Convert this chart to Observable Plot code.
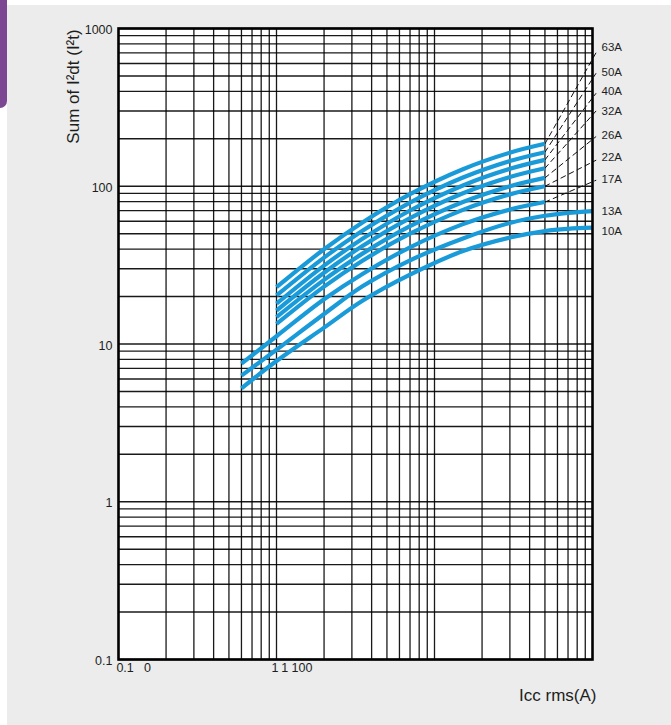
<!DOCTYPE html>
<html>
<head>
<meta charset="utf-8">
<script src="https://cdn.jsdelivr.net/npm/d3@7"></script>
<script src="https://cdn.jsdelivr.net/npm/@observablehq/plot@0.6"></script>
<style>
  html, body { margin: 0; padding: 0; background: #ffffff; }
  #page { position: relative; width: 671px; height: 725px; overflow: hidden; background: #ffffff; }
  #panel { position: absolute; left: 7px; top: 5px; right: 0; bottom: 0; background: #ebeceb; }
  #tab { position: absolute; left: 0; top: 0; width: 7px; height: 108px; background: #7b4793; border-bottom-right-radius: 7px; }
  #chart { position: absolute; left: 0; top: 0; }
</style>
</head>
<body>
<div id="page"><div id="panel"></div><div id="tab"></div><div id="chart"></div></div>
<script>
// ---- data ----
const ratings = ["63A", "50A", "40A", "32A", "26A", "22A", "17A", "13A", "10A"];

// upper curves start at 1 kA
const xUpper = [1, 2, 3.5, 7, 15, 30, 50];
const y63 = [22.9, 39.9, 59.0, 89.1, 127.8, 163.2, 185.8];
const y50 = [20.3, 35.3, 52.2, 78.8, 113.1, 144.4, 164.4];
const y40 = [18.0, 31.4, 46.4, 70.2, 100.8, 128.9, 146.9];
const y32 = [16.3, 28.3, 41.8, 62.8, 89.9, 114.4, 130.0];
const y26 = [14.8, 25.5, 37.4, 55.8, 79.2, 100.0, 113.0];
const y22 = [13.4, 23.1, 33.7, 50.0, 70.6, 88.8, 100.0];

// lower curves start at 0.6 kA
const x17 = [0.6, 1, 2, 3.5, 7, 15, 30, 50];
const y17 = [7.5, 11.2, 19.2, 27.8, 41.0, 57.3, 71.2, 79.4];
const xLow = [0.6, 1, 2, 3.5, 7, 15, 30, 50, 70, 100];
const y13 = [6.3, 9.2, 15.5, 23.2, 33.9, 46.5, 58.5, 65.0, 67.8, 69.6];
const y10 = [5.24, 7.8, 12.7, 18.8, 27.5, 38.7, 47.3, 52.0, 53.7, 54.6];

// dashed extrapolations (from the last point of each curve to the label side)
const dashFromX = 50;
const dashToX = 105;
const dashRatings = ["63A", "50A", "40A", "32A", "26A", "22A", "17A"];
const dashFromY = [185.8, 164.4, 146.9, 130.0, 113.0, 100.0, 79.4];
const dashToY = [699, 518, 387, 299, 206, 146, 109];

// curve labels at the right edge
const labelX = 100;
const labelY = [764, 531, 400, 299, 210, 152, 110, 69.4, 51.9];

// axes
const yTickValues = [0.1, 1, 10, 100, 1000];
const yTickLabels = ["0.1", "1", "10", "100", "1000"];
const xTickLabels = ["0.1", "0", "1", "1 100"];
const xTickAt = [0.097, 0.145, 0.93, 1.07];
const yGrid = [0.1,0.2,0.3,0.4,0.5,0.6,0.7,0.8,0.9,1,2,3,4,5,6,7,8,9,10,20,30,40,50,60,70,80,90,100,200,300,400,500,600,700,800,900,1000];
const xGrid = [0.2,0.3,0.4,0.5,0.6,0.7,0.8,0.9,1,2,3,4,5,6,7,8,9,10,20,30,40,50,60,70,80,90];
const xTitle = "Icc rms(A)";
const yTitle = "Sum of I²dt (I²t)";

// ---- build tables ----
const curveSets = [
  ["63A", xUpper, y63], ["50A", xUpper, y50], ["40A", xUpper, y40],
  ["32A", xUpper, y32], ["26A", xUpper, y26], ["22A", xUpper, y22],
  ["17A", x17, y17], ["13A", xLow, y13], ["10A", xLow, y10]
];
const curves = curveSets.flatMap(([r, xs, ys]) => xs.map((x, i) => ({rating: r, x, y: ys[i]})));
const dashes = dashRatings.flatMap((r, i) => [
  {rating: r, x: dashFromX, y: dashFromY[i]},
  {rating: r, x: dashToX, y: dashToY[i]}
]);
const labels = ratings.map((r, i) => ({rating: r, x: labelX, y: labelY[i]}));

const font = "'Liberation Sans', Arial, Helvetica, sans-serif";
const ink = "#1e1e1e";

const chart = Plot.plot({
  width: 671,
  height: 725,
  marginLeft: 118,
  marginRight: 79,
  marginTop: 28,
  marginBottom: 66,
  style: {background: "transparent", fontFamily: font, overflow: "visible"},
  x: {type: "log", domain: [0.1, 100], axis: null},
  y: {type: "log", domain: [0.1, 1000], axis: null},
  marks: [
    Plot.frame({fill: "white", stroke: "none"}),
    Plot.ruleY(yGrid, {stroke: "#000", strokeWidth: 1.3, strokeOpacity: 0.9}),
    Plot.ruleX(xGrid, {stroke: "#000", strokeWidth: 1.3, strokeOpacity: 0.9}),
    Plot.line(dashes, {x: "x", y: "y", z: "rating", stroke: "#111", strokeWidth: 1, strokeDasharray: "5,4"}),
    Plot.line(curves, {x: "x", y: "y", z: "rating", stroke: "#1a9bd9", strokeWidth: 4.2, curve: "catmull-rom", strokeLinecap: "butt"}),
    Plot.frame({stroke: "#000", strokeWidth: 2.6}),
    Plot.text(labels, {x: "x", y: "y", text: "rating", dx: 9, textAnchor: "start", fontSize: 11.5, fill: ink}),
    Plot.text(yTickValues, {y: d => d, text: (d, i) => yTickLabels[i], frameAnchor: "left", dx: -6, dy: 1.5, textAnchor: "end", fontSize: 12.5, fill: ink}),
    Plot.text(xTickLabels, {x: (d, i) => xTickAt[i], text: d => d, frameAnchor: "bottom", dy: 12, textAnchor: "start", fontSize: 12.5, fill: ink}),
    Plot.text([xTitle], {frameAnchor: "bottom-right", dx: 4, dy: 41, textAnchor: "end", fontSize: 17, fill: ink}),
    Plot.text([yTitle], {frameAnchor: "top-left", dx: -52, dy: 58, rotate: -90, textAnchor: "middle", fontSize: 17, fill: ink})
  ]
});
document.getElementById("chart").appendChild(chart);
</script>
</body>
</html>
